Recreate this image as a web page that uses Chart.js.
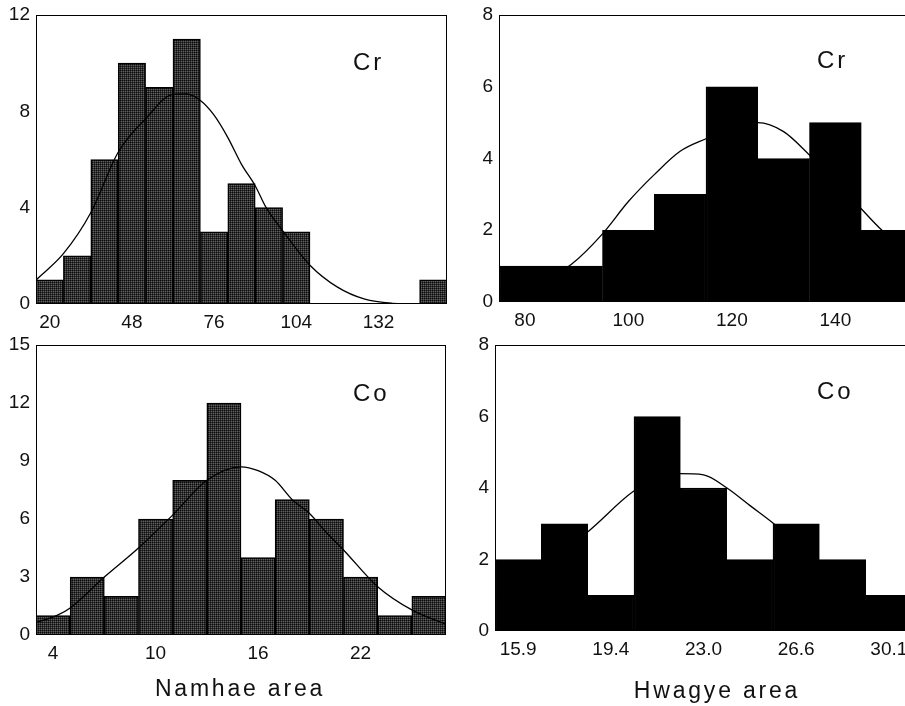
<!DOCTYPE html>
<html>
<head>
<meta charset="utf-8">
<script src="https://cdn.jsdelivr.net/npm/chart.js@4.4.1/dist/chart.umd.min.js"></script>
<style>
  html, body { margin: 0; padding: 0; background: #fff; overflow: hidden; width: 905px; height: 706px; }
  .panel { position: absolute; }
  .tag { position: absolute; font-family: 'Liberation Sans', Arial, sans-serif; font-size: 24px; letter-spacing: 3px; color: #111; line-height: 1; }
  .xtitle { position: absolute; font-family: 'Liberation Sans', Arial, sans-serif; font-size: 23px; letter-spacing: 2.8px; color: #111; line-height: 1; white-space: nowrap; transform: translateX(-50%); }
</style>
</head>
<body>
<div class="panel" style="left:0;top:0"><canvas id="c1" width="450" height="340"></canvas></div>
<div class="panel" style="left:450px;top:0"><canvas id="c2" width="470" height="340"></canvas></div>
<div class="panel" style="left:0;top:330px"><canvas id="c3" width="450" height="376"></canvas></div>
<div class="panel" style="left:450px;top:330px"><canvas id="c4" width="470" height="376"></canvas></div>

<div class="tag" style="left:353px;top:50px">Cr</div>
<div class="tag" style="left:817px;top:48px">Cr</div>
<div class="tag" style="left:353px;top:381px">Co</div>
<div class="tag" style="left:817px;top:379px">Co</div>
<div class="xtitle" style="left:240px;top:677px">Namhae area</div>
<div class="xtitle" style="left:717px;top:679px">Hwagye area</div>

<script>
// ---- Namhae Cr ----
const namCrLabels = ['20','','','48','','','76','','','104','','','132','',''];
const namCrCounts = [1, 2, 6, 10, 9, 11, 3, 5, 4, 3, 0, 0, 0, 0, 1];
const namCrCurveX = [15.3, 24.7, 34, 43.3, 52.7, 62, 66.7, 71.3, 75.9, 80.7, 85.3, 90, 93.7, 99.3, 108.7, 118, 127.3, 136.7, 146, 155.3];
const namCrCurveY = [1.0, 2.1, 3.8, 6.3, 7.7, 8.7, 8.72, 8.45, 7.85, 6.9, 5.8, 4.9, 4.0, 3.05, 1.6, 0.7, 0.2, 0.03, 0, 0];

// ---- Hwagye Cr ----
const hwaCrLabels = ['80','','100','','120','','140',''];
const hwaCrCounts = [1, 1, 2, 3, 6, 4, 5, 2];
const hwaCrCurveX = [75, 80, 85, 89, 95, 100, 105, 110, 115, 120, 125, 130, 135, 140, 145, 149, 155];
const hwaCrCurveY = [0.3, 0.45, 0.7, 1.05, 1.9, 2.8, 3.55, 4.2, 4.55, 4.85, 5.0, 4.75, 4.1, 3.4, 2.6, 2.0, 1.3];

// ---- Namhae Co ----
const namCoLabels = ['4','','','10','','','16','','','22','',''];
const namCoCounts = [1, 3, 2, 6, 8, 12, 4, 7, 6, 3, 1, 2];
const namCoCurveX = [3, 4.2, 5, 7, 9, 11, 13, 15, 16, 17, 18, 19, 20, 21, 23, 25, 27];
const namCoCurveY = [0.64, 1.0, 1.4, 3.0, 4.5, 6.2, 8.0, 8.7, 8.5, 8.0, 7.0, 6.3, 5.3, 4.4, 2.5, 1.3, 0.55];

// ---- Hwagye Co ----
const hwaCoLabels = ['15.9','','19.4','','23.0','','26.6','','30.1'];
const hwaCoCounts = [2, 3, 1, 6, 4, 2, 3, 2, 1];
const hwaCoCurveX = [15.0, 16.8, 18.6, 20.3, 21.2, 22.1, 23.0, 23.9, 24.8, 25.7, 27.4, 29.2, 31.0];
const hwaCoCurveY = [0.9, 1.8, 2.8, 3.9, 4.25, 4.4, 4.37, 4.0, 3.5, 3.0, 1.9, 1.0, 0.4];

// halftone grey fill like the scanned bars
function greyPattern() {
    var t = document.createElement('canvas');
    t.width = 2; t.height = 2;
    var g = t.getContext('2d');
    g.fillStyle = '#0c0c0c'; g.fillRect(0, 0, 1, 1);
    g.fillStyle = '#303030'; g.fillRect(1, 0, 1, 1); g.fillRect(0, 1, 1, 1);
    g.fillStyle = '#606060'; g.fillRect(1, 1, 1, 1);
    return g.createPattern(t, 'repeat');
}

const framePlugin = {
    id: 'frame',
    afterDatasetsDraw(chart) {
        var a = chart.chartArea, ctx = chart.ctx;
        ctx.save();
        ctx.strokeStyle = '#000';
        ctx.lineWidth = 1;
        ctx.strokeRect(Math.round(a.left) + 0.5, Math.round(a.top) + 0.5,
            Math.round(a.right - a.left) - 1, Math.round(a.bottom - a.top) - 1);
        ctx.restore();
    }
};

const tickFont = { family: "'Liberation Sans', Arial, sans-serif", size: 19 };

function histogram(id, o) {
    var xmin = o.curveX[0], xmax = o.curveX[o.curveX.length - 1];
    var pts = o.curveX.map(function (x, i) { return { x: x, y: o.curveY[i] }; });
    return new Chart(document.getElementById(id), {
        type: 'bar',
        data: {
            labels: o.labels,
            datasets: [{
                type: 'line',
                data: pts,
                xAxisID: 'xc',
                borderColor: '#000',
                borderWidth: 1.3,
                pointRadius: 0,
                cubicInterpolationMode: 'monotone',
                order: 0
            }, {
                type: 'bar',
                data: o.counts,
                xAxisID: 'x',
                backgroundColor: o.fill,
                borderColor: '#000',
                borderWidth: 1.5,
                grouped: false,
                barPercentage: 1,
                categoryPercentage: 1,
                order: 1
            }]
        },
        options: {
            responsive: false,
            animation: false,
            layout: { padding: o.pad },
            plugins: { legend: { display: false }, tooltip: { enabled: false } },
            scales: {
                x: {
                    type: 'category',
                    offset: true,
                    grid: { display: false, drawTicks: false, offset: true },
                    border: { display: false },
                    ticks: { autoSkip: false, maxRotation: 0, padding: 7, color: '#111', font: tickFont },
                    afterFit: function (s) { s.height = 30; }
                },
                xc: {
                    type: 'linear', display: false, offset: false, min: xmin, max: xmax
                },
                y: {
                    min: 0, max: o.ymax,
                    grid: { display: false, drawTicks: false },
                    border: { display: false },
                    ticks: { stepSize: o.step, padding: 6, color: '#111', font: tickFont },
                    afterFit: function (s) { s.width = o.yw; s.paddingTop = 0; s.paddingBottom = 0; }
                }
            }
        },
        plugins: [framePlugin]
    });
}

var grey = greyPattern();

histogram('c1', { labels: namCrLabels, counts: namCrCounts, curveX: namCrCurveX, curveY: namCrCurveY,
    fill: grey, ymax: 12, step: 4, yw: 36, pad: { left: 0, right: 3, top: 15, bottom: 6 } });
histogram('c2', { labels: hwaCrLabels, counts: hwaCrCounts, curveX: hwaCrCurveX, curveY: hwaCrCurveY,
    fill: '#000', ymax: 8, step: 2, yw: 49, pad: { left: 0, right: 7, top: 15, bottom: 8 } });
histogram('c3', { labels: namCoLabels, counts: namCoCounts, curveX: namCoCurveX, curveY: namCoCurveY,
    fill: grey, ymax: 15, step: 3, yw: 36, pad: { left: 0, right: 4, top: 15, bottom: 41 } });
histogram('c4', { labels: hwaCoLabels, counts: hwaCoCounts, curveX: hwaCoCurveX, curveY: hwaCoCurveY,
    fill: '#000', ymax: 8, step: 2, yw: 45, pad: { left: 0, right: 8, top: 15, bottom: 45 } });
</script>
</body>
</html>
